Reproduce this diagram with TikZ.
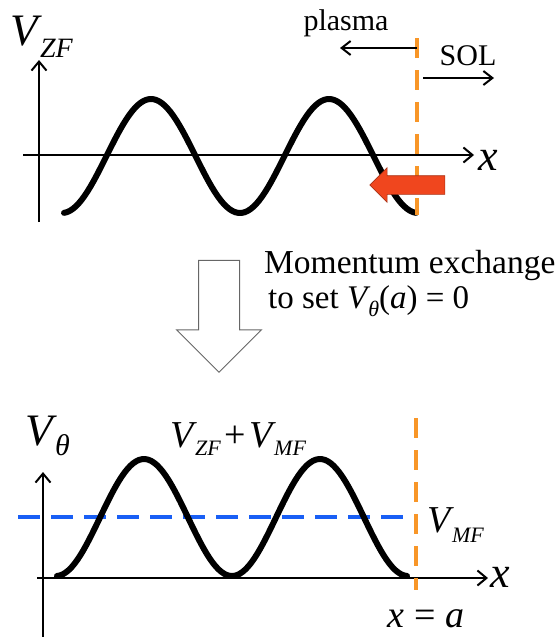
\documentclass[tikz,border=0pt]{standalone}
\usepackage{fontspec}
\setmainfont{Liberation Serif}
\usetikzlibrary{arrows.meta,shapes.arrows}

\definecolor{sepOrange}{RGB}{248,150,40}
\definecolor{mfBlue}{RGB}{25,95,245}
\definecolor{pushRed}{RGB}{240,70,30}

% italic letter with a lowered italic subscript
\newcommand{\vsub}[4]{\textit{#1}\kern-2pt\raisebox{-#4}{\fontsize{#3}{#3}\selectfont\textit{#2}}}

\begin{document}
\begin{tikzpicture}[x=1pt, y=-1pt,
    axis/.style={line width=2pt, -{Straight Barb[length=9pt,width=15pt]}},
    dirarrow/.style={line width=2pt, -{Straight Barb[length=9pt,width=14pt]}},
    wave/.style={line width=6pt, line cap=round, line join=round},
    sepline/.style={sepOrange, line width=3.5pt, dash pattern=on 20pt off 12pt},
    mfline/.style={mfBlue, line width=4pt, dash pattern=on 22pt off 11pt},
    txt/.style={inner sep=0pt, font=\fontsize{30}{36}\selectfont},
    bigv/.style={inner sep=0pt, font=\fontsize{45}{50}\selectfont},
    midv/.style={inner sep=0pt, font=\fontsize{38}{44}\selectfont},
    xlab/.style={inner sep=0pt, font=\fontsize{44}{48}\selectfont},
]
    \useasboundingbox (0,0) rectangle (558,637);

    % Top panel: zonal flow
    \coordinate (tyb) at (39,222);
    \coordinate (tyt) at (39,60);
    \coordinate (txl) at (23,155);
    \coordinate (txr) at (474,155);
    \draw[axis] (tyb) -- (tyt);
    \draw[axis] (txl) -- (txr);
    \node[bigv, anchor=base west] (vzf) at (10,45) {\vsub{V}{ZF}{28pt}{13pt}};
    \node[xlab, anchor=base] (xtop) at (488,170) {\textit{x}};

    \draw[wave] plot[domain=64:416, samples=120] (\x, {156 - 57*cos(2.0225*(\x-151))});

    \coordinate (septop) at (417,38);
    \coordinate (sepbot) at (417,215);
    \draw[sepline] (septop) -- (sepbot);

    \coordinate (plasmastart) at (417,48);
    \coordinate (plasmaend) at (340,48);
    \coordinate (solstart) at (423,78);
    \coordinate (solend) at (494,78);
    \draw[dirarrow] (plasmastart) -- (plasmaend);
    \draw[dirarrow] (solstart) -- (solend);
    \node[txt, anchor=base] (plasma) at (346,30) {plasma};
    \node[txt, anchor=base] (sol) at (468,65) {SOL};

    \node[single arrow, shape border rotate=180, fill=pushRed, draw=pushRed!70!black, line width=0.6pt,
          minimum height=75pt, inner sep=9pt, single arrow head extend=8pt] (push) at (412,185) {};

    % Middle: momentum exchange
    \node[single arrow, shape border rotate=270, fill=white, draw=black!60, line width=1pt,
          minimum height=112pt, inner sep=20pt, single arrow head extend=22pt] (down) at (219,306) {};
    \node[inner sep=0pt, font=\fontsize{33.5}{40}\selectfont, anchor=base west] (mom) at (264,273) {Momentum exchange};
    \node[inner sep=0pt, font=\fontsize{33}{40}\selectfont, anchor=base west] (toset) at (268,308)
        {to set \vsub{V}{θ}{22pt}{8pt}(\textit{a}) = 0};

    % Bottom panel: total flow
    \coordinate (byb) at (43,637);
    \coordinate (byt) at (43,472);
    \coordinate (bxl) at (37,578);
    \coordinate (bxr) at (488,578);
    \draw[axis] (byb) -- (byt);
    \draw[axis] (bxl) -- (bxr);
    \node[bigv, anchor=base west] (vtheta) at (25,445) {\vsub{V}{θ}{30pt}{10pt}};
    \node[xlab, anchor=base] (xbot) at (500,587) {\textit{x}};

    \coordinate (mfl) at (18,517);
    \coordinate (mfr) at (415,517);
    \draw[mfline] (mfl) -- (mfr);

    \draw[wave] plot[domain=57:407, samples=120] (\x, {517.5 - 58.5*cos(2.0455*(\x-144))});

    \coordinate (sep2top) at (416,418);
    \coordinate (sep2bot) at (416,590);
    \draw[sepline] (sep2top) -- (sep2bot);

    \node[midv, anchor=base west] (vsum) at (170,447)
        {\vsub{V}{ZF}{22pt}{8pt}\kern4pt+\kern3pt\vsub{V}{MF}{22pt}{8pt}};
    \node[midv, anchor=base west] (vmf) at (427,532) {\vsub{V}{MF}{22pt}{10pt}};
    \node[inner sep=0pt, font=\fontsize{38}{42}\selectfont, anchor=base] (xa) at (426,627) {\textit{x} = \textit{a}};
\end{tikzpicture}
\end{document}
